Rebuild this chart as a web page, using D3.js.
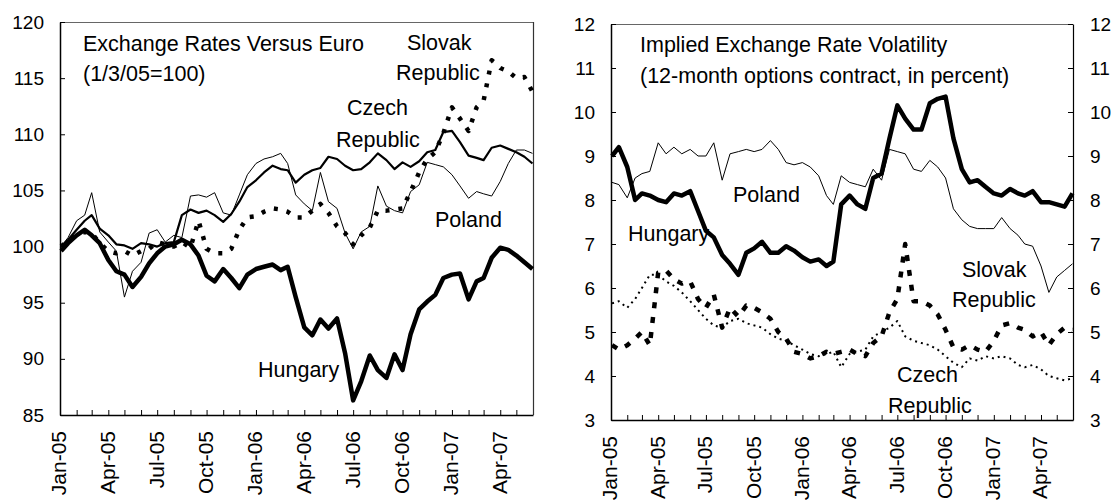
<!DOCTYPE html>
<html>
<head>
<meta charset="utf-8">
<script src="https://cdn.jsdelivr.net/npm/d3@7"></script>
<style>
body { margin: 0; background: #fff; }
svg { display: block; font-family: "Liberation Sans", Arial, sans-serif; }
</style>
</head>
<body>
<div id="chart"></div>
<script>
// semi-monthly observation dates, shared by both panels
const dates = [
    "2005-01-03","2005-01-16","2005-02-01","2005-02-16","2005-03-01","2005-03-16","2005-04-01","2005-04-16",
    "2005-05-01","2005-05-16","2005-06-01","2005-06-16","2005-07-01","2005-07-16","2005-08-01","2005-08-16",
    "2005-09-01","2005-09-16","2005-10-01","2005-10-16","2005-11-01","2005-11-16","2005-12-01","2005-12-16",
    "2006-01-01","2006-01-16","2006-02-01","2006-02-16","2006-03-01","2006-03-16","2006-04-01","2006-04-16",
    "2006-05-01","2006-05-16","2006-06-01","2006-06-16","2006-07-01","2006-07-16","2006-08-01","2006-08-16",
    "2006-09-01","2006-09-16","2006-10-01","2006-10-16","2006-11-01","2006-11-16","2006-12-01","2006-12-16",
    "2007-01-01","2007-01-16","2007-02-01","2007-02-16","2007-03-01","2007-03-16","2007-04-01","2007-04-16",
    "2007-05-01","2007-05-16","2007-05-31"
];

const xTickLabels = ["Jan-05","Apr-05","Jul-05","Oct-05","Jan-06","Apr-06","Jul-06","Oct-06","Jan-07","Apr-07"];

// left panel: exchange rates versus euro (1/3/05=100)
const fxTicks = [85, 90, 95, 100, 105, 110, 115, 120];
const fxHungary = [99.6,100.3,101.0,101.5,101.0,100.3,98.8,97.8,97.5,96.4,97.3,98.5,99.4,100.0,100.2,100.6,
    100.2,99.2,97.4,96.9,98.0,97.2,96.3,97.5,98.0,98.2,98.4,97.9,98.2,95.5,92.8,92.1,93.5,92.7,93.6,90.5,
    86.3,88.0,90.3,89.0,88.3,90.4,89.0,92.2,94.4,95.1,95.7,97.2,97.5,97.6,95.3,96.9,97.2,99.0,99.9,99.7,
    99.2,98.6,98.0];
const fxCzech = [100.0,100.6,101.5,102.3,102.8,101.6,101.0,100.2,100.1,99.8,100.3,100.2,100.0,100.3,100.4,102.8,
    103.3,103.0,103.2,102.8,102.2,102.9,104.0,105.3,105.9,106.6,107.2,106.9,106.8,105.7,106.4,106.8,107.0,108.0,
    107.8,107.2,106.8,106.9,107.5,108.3,107.7,106.9,107.5,107.1,107.6,108.4,108.6,110.2,110.3,109.3,108.1,107.9,
    107.7,108.8,109.0,108.7,108.4,108.0,107.4];
const fxPoland = [100.0,100.8,102.3,102.8,104.8,101.3,100.4,99.6,95.5,97.8,98.6,101.2,101.5,100.4,101.0,100.8,
    104.5,104.6,104.4,104.8,103.0,102.8,104.6,106.4,107.4,107.8,108.0,108.3,107.4,104.6,103.8,103.2,106.6,104.0,
    103.4,101.2,99.8,101.3,101.8,105.4,103.6,103.2,103.0,104.9,105.5,107.5,107.3,107.1,106.4,105.4,104.3,104.9,
    104.7,104.5,105.8,107.4,108.6,108.6,108.3];
const fxSlovak = [100.0,100.5,101.0,101.3,101.2,100.3,99.6,99.4,99.6,99.2,99.6,99.8,100.4,100.2,100.0,100.4,
    99.9,102.3,99.8,99.4,99.4,99.8,101.5,102.6,102.7,103.1,103.4,103.3,103.1,102.6,102.6,103.2,103.8,103.0,
    101.8,101.2,100.2,101.0,101.7,103.2,103.2,103.3,103.4,104.9,106.6,107.8,108.4,110.1,112.4,111.4,110.3,112.4,
    113.0,116.6,115.9,115.6,115.0,115.1,113.8];

// right panel: implied volatility, 12-month options, percent
const volTicks = [3, 4, 5, 6, 7, 8, 9, 10, 11, 12];
const volHungary = [9.0,9.2,8.75,8.0,8.15,8.1,8.0,7.95,8.15,8.1,8.2,7.75,7.3,7.15,6.75,6.55,6.3,6.8,6.9,7.05,
    6.8,6.8,6.95,6.85,6.7,6.6,6.65,6.5,6.6,7.9,8.1,7.9,7.8,8.5,8.6,9.4,10.15,9.85,9.6,9.6,10.2,10.3,10.35,
    9.4,8.7,8.4,8.45,8.3,8.15,8.1,8.25,8.15,8.1,8.2,7.95,7.95,7.9,7.85,8.15];
const volPoland = [8.4,8.35,8.05,8.5,8.6,8.65,9.3,9.05,9.2,9.05,9.15,9.0,9.0,9.3,8.45,9.05,9.1,9.15,9.1,9.15,
    9.35,9.15,8.85,8.8,8.85,8.75,8.55,8.1,7.9,8.55,8.4,8.35,8.3,8.7,8.45,9.15,9.1,9.05,8.7,8.65,8.9,8.75,8.5,
    7.8,7.55,7.4,7.35,7.35,7.35,7.6,7.35,7.2,7.0,6.95,6.5,5.9,6.25,6.4,6.55];
const volSlovak = [4.7,4.6,4.7,4.85,5.0,4.7,6.35,6.4,6.2,6.1,6.15,5.75,5.55,5.85,5.1,5.55,5.35,5.6,5.55,5.45,
    5.3,5.0,4.85,4.55,4.5,4.4,4.45,4.55,4.5,4.55,4.6,4.5,4.45,4.75,4.9,5.45,5.75,7.0,5.7,5.7,5.6,5.4,5.05,
    4.65,4.6,4.7,4.6,4.55,4.8,5.15,5.2,5.1,5.05,4.9,5.0,4.7,4.95,5.1,5.05];
const volCzech = [5.65,5.7,5.55,5.75,6.0,6.3,6.3,6.15,6.05,5.9,5.7,5.5,5.3,5.15,5.1,5.25,5.3,5.2,5.15,5.1,
    4.95,4.85,4.8,4.7,4.6,4.5,4.45,4.5,4.55,4.2,4.5,4.55,4.6,4.9,5.0,5.1,5.25,4.9,4.8,4.75,4.7,4.6,4.45,
    4.3,4.2,4.4,4.35,4.45,4.4,4.45,4.4,4.25,4.2,4.25,4.15,4.0,3.95,3.9,3.95];

const parseDate = d3.timeParse("%Y-%m-%d");
const dateObjs = dates.map(parseDate);
const xStart = new Date(2005, 0, 1), xEnd = new Date(2007, 5, 1);
const quarterDates = d3.timeMonth.every(3).range(xStart, xEnd);

const width = 1120, height = 502;
const svg = d3.select('#chart').append('svg')
    .attr('width', width)
    .attr('height', height);

svg.append('rect').attr('width', width).attr('height', height).attr('fill', '#fff');

function drawPanel(cfg) {
    const x = d3.scaleTime().domain([xStart, xEnd]).range([cfg.left, cfg.right]);
    const y = d3.scaleLinear().domain(cfg.yDomain).range([cfg.bottom, cfg.top]);
    const g = svg.append('g');

    // frame top and right
    g.append('line')
        .attr('x1', cfg.left).attr('x2', cfg.right)
        .attr('y1', cfg.top + 0.5).attr('y2', cfg.top + 0.5)
        .attr('stroke', '#666').attr('stroke-width', 1.2);
    if (!cfg.rightAxis) {
        g.append('line')
            .attr('x1', cfg.right + 0.5).attr('x2', cfg.right + 0.5)
            .attr('y1', cfg.top).attr('y2', cfg.bottom)
            .attr('stroke', '#333').attr('stroke-width', 1.2);
    }

    // series
    const line = d3.line()
        .x((d, i) => x(dateObjs[i]))
        .y(d => y(d));
    cfg.series.forEach(s => {
        g.append('path')
            .datum(s.values)
            .attr('d', line)
            .attr('fill', 'none')
            .attr('stroke', '#000')
            .attr('stroke-width', s.width)
            .attr('stroke-dasharray', s.dash || null)
            .attr('stroke-linejoin', 'round');
    });

    // left axis
    const yAxis = d3.axisLeft(y).tickValues(cfg.yTicks).tickSizeInner(-5).tickSizeOuter(0).tickPadding(16);
    const ya = g.append('g').attr('transform', `translate(${cfg.left},0)`).call(yAxis);
    ya.select('.domain').attr('stroke', '#000').attr('stroke-width', 1.5);
    ya.selectAll('text').attr('font-size', 19).attr('fill', '#000').attr('font-family', null);

    if (cfg.rightAxis) {
        const yAxisR = d3.axisRight(y).tickValues(cfg.yTicks).tickSizeInner(-5).tickSizeOuter(0).tickPadding(17);
        const yr = g.append('g').attr('transform', `translate(${cfg.right},0)`).call(yAxisR);
        yr.select('.domain').attr('stroke', '#000').attr('stroke-width', 1.2);
        yr.selectAll('text').attr('font-size', 19).attr('fill', '#000').attr('font-family', null);
    }

    // bottom axis: monthly ticks, quarterly labels
    const xMinor = d3.axisBottom(x).ticks(d3.timeMonth.every(1)).tickSizeInner(-5).tickSizeOuter(0).tickFormat('');
    const xa = g.append('g').attr('transform', `translate(0,${cfg.bottom})`).call(xMinor);
    xa.select('.domain').attr('stroke', '#000').attr('stroke-width', 1.5);
    xa.selectAll('.tick').filter(d => d >= xEnd).remove();

    const xMajor = d3.axisBottom(x).tickValues(quarterDates).tickSize(0)
        .tickFormat((d, i) => xTickLabels[i]);
    const xl = g.append('g').attr('transform', `translate(0,${cfg.bottom})`).call(xMajor);
    xl.select('.domain').remove();
    xl.selectAll('text')
        .attr('font-size', 21)
        .attr('font-family', null)
        .attr('fill', '#000')
        .attr('transform', 'rotate(-90)')
        .attr('x', -16)
        .attr('y', 0)
        .attr('dy', '0.28em')
        .style('text-anchor', 'end');

    // annotations
    cfg.labels.forEach(l => {
        g.append('text')
            .attr('x', cfg.left + l.dx)
            .attr('y', cfg.top + l.dy)
            .attr('font-size', 21.5)
            .attr('fill', '#000')
            .text(l.text);
    });
}

drawPanel({
    left: 60, right: 533, top: 22, bottom: 415,
    yDomain: [85, 120], yTicks: fxTicks,
    series: [
        { values: fxPoland, width: 1 },
        { values: fxCzech, width: 2.2 },
        { values: fxSlovak, width: 4.5, dash: '4,9' },
        { values: fxHungary, width: 4.5 }
    ],
    labels: [
        { text: 'Exchange Rates Versus Euro', dx: 23, dy: 29 },
        { text: '(1/3/05=100)', dx: 23, dy: 59 },
        { text: 'Slovak', dx: 347, dy: 28 },
        { text: 'Republic', dx: 336, dy: 58 },
        { text: 'Czech', dx: 287, dy: 93 },
        { text: 'Republic', dx: 276, dy: 125 },
        { text: 'Poland', dx: 375, dy: 205 },
        { text: 'Hungary', dx: 198, dy: 355 }
    ]
});

drawPanel({
    left: 611, right: 1073, top: 24, bottom: 420,
    yDomain: [3, 12], yTicks: volTicks, rightAxis: true,
    series: [
        { values: volPoland, width: 1 },
        { values: volCzech, width: 2, dash: '2,4' },
        { values: volSlovak, width: 4.5, dash: '6,9' },
        { values: volHungary, width: 4.5 }
    ],
    labels: [
        { text: 'Implied Exchange Rate Volatility', dx: 29, dy: 28 },
        { text: '(12-month options contract, in percent)', dx: 29, dy: 59 },
        { text: 'Poland', dx: 122, dy: 178 },
        { text: 'Hungary', dx: 17, dy: 217 },
        { text: 'Slovak', dx: 351, dy: 253 },
        { text: 'Republic', dx: 341, dy: 283 },
        { text: 'Czech', dx: 286, dy: 358 },
        { text: 'Republic', dx: 277, dy: 389 }
    ]
});
</script>
</body>
</html>
